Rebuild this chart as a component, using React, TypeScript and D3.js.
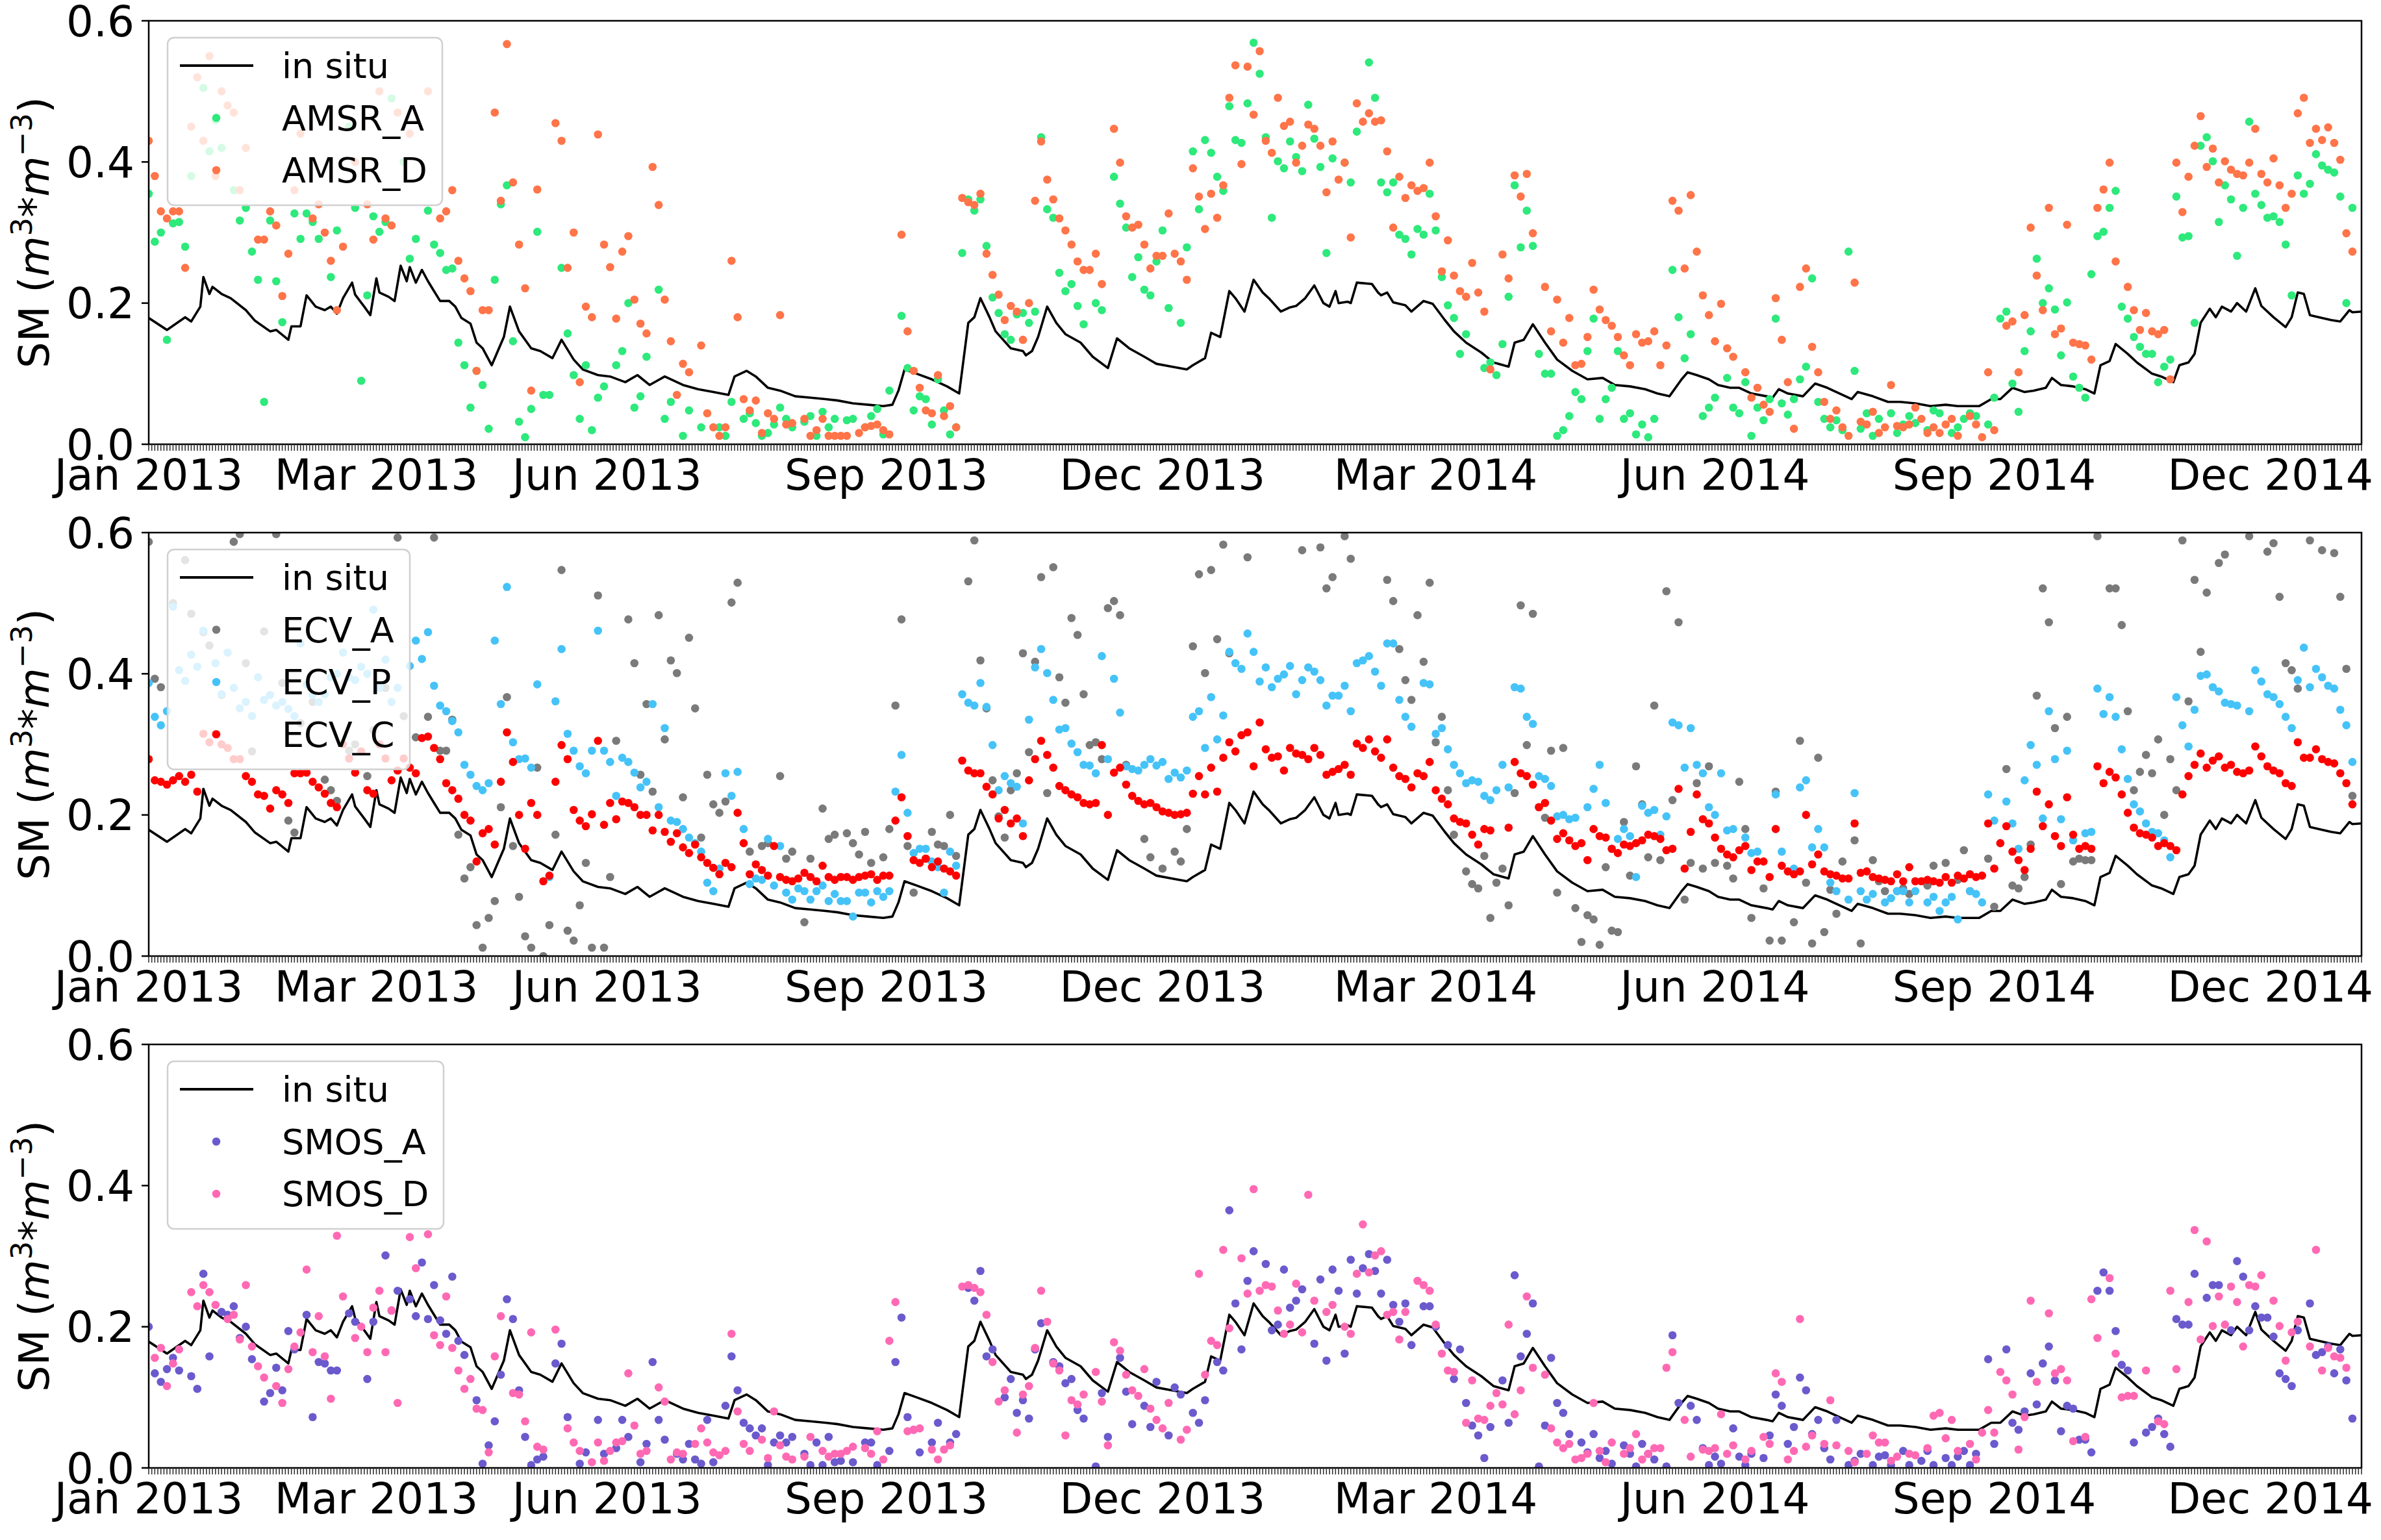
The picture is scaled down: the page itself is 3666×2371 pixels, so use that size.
import React from 'react';
import * as d3 from 'd3';

// missing retrieval
const _ = null;

// time axis: day 0 = 2013-01-01, satellite series sampled every 2 days
const START = Date.UTC(2013, 0, 1);
const DAY = 86400000;
const STEP = 2;
const LAST_DAY = 729;

const tickDates = ['2013-01-01', '2013-03-17', '2013-06-01', '2013-09-01', '2013-12-01', '2014-03-01', '2014-06-01', '2014-09-01', '2014-12-01'];
const yTicks = [0, 0.2, 0.4, 0.6];

// in situ soil moisture: [day, value]
const inSitu: [number, number][] = [
  [0, 0.179], [6, 0.162], [12, 0.18], [14, 0.174], [17, 0.195], [18, 0.237], [20, 0.213], [21, 0.223], [24, 0.213], [27, 0.207],
  [32, 0.19], [35, 0.175], [40, 0.16], [42, 0.162], [46, 0.148], [47, 0.167], [50, 0.167], [52, 0.211], [55, 0.195], [58, 0.19],
  [60, 0.195], [62, 0.185], [64, 0.207], [67, 0.229], [68, 0.212], [71, 0.195], [73, 0.183], [75, 0.235], [76, 0.215], [79, 0.209],
  [81, 0.203], [83, 0.253], [85, 0.231], [86, 0.251], [88, 0.229], [90, 0.247], [92, 0.231], [94, 0.217], [96, 0.203], [99, 0.203],
  [101, 0.195], [103, 0.179], [106, 0.171], [108, 0.144], [110, 0.136], [113, 0.112], [115, 0.132], [117, 0.152], [119, 0.195], [122, 0.16],
  [126, 0.136], [129, 0.132], [133, 0.122], [136, 0.148], [140, 0.12], [143, 0.106], [148, 0.098], [152, 0.096], [157, 0.088], [161, 0.098],
  [165, 0.084], [170, 0.096], [176, 0.084], [181, 0.078], [186, 0.074], [191, 0.07], [193, 0.096], [197, 0.104], [200, 0.096], [204, 0.08],
  [208, 0.076], [213, 0.068], [218, 0.066], [223, 0.064], [227, 0.062], [232, 0.058], [237, 0.056], [242, 0.054], [245, 0.056], [247, 0.076],
  [249, 0.106], [253, 0.1], [258, 0.092], [263, 0.082], [267, 0.072], [270, 0.172], [272, 0.18], [274, 0.207], [277, 0.18], [279, 0.16],
  [284, 0.136], [288, 0.132], [289, 0.126], [291, 0.132], [293, 0.152], [296, 0.195], [299, 0.172], [302, 0.156], [307, 0.144], [311, 0.124],
  [316, 0.108], [319, 0.15], [323, 0.136], [328, 0.124], [332, 0.114], [337, 0.11], [342, 0.106], [344, 0.112], [348, 0.122], [350, 0.158],
  [353, 0.152], [356, 0.217], [358, 0.207], [361, 0.188], [364, 0.233], [367, 0.215], [369, 0.207], [373, 0.188], [376, 0.194], [378, 0.196],
  [381, 0.207], [384, 0.225], [387, 0.2], [389, 0.195], [391, 0.217], [392, 0.2], [395, 0.202], [396, 0.2], [398, 0.229], [403, 0.227],
  [405, 0.215], [406, 0.211], [408, 0.215], [410, 0.201], [414, 0.197], [416, 0.188], [420, 0.203], [423, 0.199], [427, 0.176], [430, 0.16],
  [434, 0.144], [439, 0.13], [443, 0.116], [448, 0.11], [450, 0.144], [453, 0.148], [456, 0.17], [460, 0.144], [464, 0.12], [469, 0.104],
  [474, 0.092], [479, 0.094], [483, 0.084], [488, 0.082], [493, 0.078], [497, 0.072], [501, 0.068], [505, 0.092], [507, 0.102], [510, 0.098],
  [514, 0.092], [517, 0.084], [521, 0.08], [524, 0.08], [528, 0.072], [533, 0.068], [535, 0.066], [537, 0.078], [540, 0.072], [545, 0.068],
  [549, 0.086], [553, 0.08], [556, 0.074], [561, 0.064], [563, 0.074], [568, 0.068], [573, 0.06], [577, 0.06], [582, 0.058], [587, 0.054],
  [592, 0.056], [596, 0.054], [603, 0.054], [607, 0.064], [610, 0.064], [614, 0.08], [618, 0.074], [621, 0.076], [625, 0.08], [627, 0.094],
  [630, 0.084], [634, 0.082], [638, 0.078], [641, 0.072], [643, 0.112], [646, 0.118], [648, 0.142], [652, 0.128], [655, 0.116], [660, 0.1],
  [663, 0.096], [667, 0.088], [669, 0.112], [672, 0.116], [674, 0.128], [676, 0.172], [679, 0.192], [681, 0.18], [683, 0.195], [686, 0.188],
  [688, 0.2], [691, 0.188], [694, 0.221], [696, 0.196], [700, 0.18], [704, 0.166], [706, 0.18], [708, 0.215], [710, 0.213], [712, 0.183],
  [715, 0.18], [719, 0.176], [722, 0.174], [725, 0.19], [726, 0.187], [729, 0.188],
];

const amsrA = [
  0.355, 0.287, 0.3, 0.148, 0.313, 0.315, 0.28, 0.38, _, 0.505, 0.415, 0.459, 0.42, _, 0.36,
  0.317, 0.335, 0.273, 0.233, 0.06, 0.317, 0.231, 0.173, _, 0.327, 0.291, 0.327, 0.315, 0.291, _,
  0.237, 0.303, _, 0.45, 0.335, 0.09, 0.211, 0.323, 0.301, 0.315, 0.49, _, 0.4, 0.263, 0.291,
  _, 0.331, 0.283, 0.271, 0.247, 0.249, 0.144, 0.112, 0.052, 0.104, 0.084, 0.022, 0.233, 0.34, 0.367,
  0.146, 0.032, 0.01, 0.05, 0.301, 0.07, 0.07, _, 0.25, 0.157, 0.098, 0.036, 0.112, 0.02, 0.066,
  0.082, _, 0.112, 0.132, 0.2, 0.052, 0.068, 0.124, _, 0.219, 0.036, 0.06, _, 0.012, 0.048,
  _, 0.024, _, _, 0.024, 0.012, 0.06, _, 0.036, 0.044, 0.03, 0.012, 0.016, 0.028, 0.052,
  0.036, 0.024, _, 0.032, 0.04, 0.012, 0.046, 0.024, 0.036, _, 0.034, 0.036, _, 0.024, 0.04,
  0.05, 0.014, 0.076, _, 0.182, 0.108, 0.048, 0.068, 0.064, 0.028, 0.092, 0.048, 0.014, 0.024, 0.271,
  0.347, 0.331, 0.347, 0.281, 0.208, 0.186, 0.156, 0.148, 0.184, 0.186, 0.172, 0.188, 0.435, 0.333, 0.321,
  0.243, 0.217, 0.227, 0.196, 0.17, _, 0.2, 0.19, _, 0.379, 0.341, 0.307, 0.237, 0.265, 0.219,
  0.211, 0.259, 0.303, 0.193, _, 0.172, 0.279, 0.415, 0.333, 0.431, 0.413, 0.379, 0.359, 0.479, 0.431,
  0.427, 0.483, 0.569, 0.525, 0.435, 0.321, 0.401, 0.391, 0.429, 0.407, 0.387, 0.481, 0.433, 0.393, 0.271,
  0.405, _, 0.399, 0.371, 0.443, _, 0.541, 0.491, 0.371, 0.357, 0.371, 0.297, 0.291, 0.269, 0.305,
  0.297, 0.355, 0.303, 0.237, 0.197, 0.179, 0.128, 0.156, _, _, 0.108, 0.116, 0.098, 0.142, 0.209,
  0.367, 0.279, 0.331, 0.281, 0.128, 0.1, 0.1, 0.012, 0.02, 0.04, 0.074, 0.064, 0.132, 0.178, 0.036,
  0.064, 0.08, 0.132, 0.036, 0.044, 0.014, 0.028, 0.01, 0.036, _, _, 0.247, 0.18, 0.122, 0.156,
  _, 0.04, 0.052, 0.066, _, 0.094, 0.052, 0.044, 0.088, 0.012, 0.052, 0.034, 0.064, 0.178, 0.058,
  0.042, 0.064, 0.092, 0.11, 0.235, 0.06, 0.036, 0.024, 0.034, 0.02, 0.273, 0.104, 0.022, 0.044, 0.012,
  0.036, _, 0.044, 0.016, 0.028, 0.04, 0.03, _, 0.02, 0.048, 0.044, _, 0.016, 0.024, 0.036,
  0.044, 0.04, _, 0.028, 0.066, 0.178, 0.188, 0.086, 0.046, 0.132, 0.16, 0.263, 0.2, 0.221, 0.191,
  0.126, 0.201, 0.096, 0.08, 0.066, 0.241, 0.295, 0.301, 0.335, 0.359, 0.195, 0.178, 0.152, 0.138, 0.128,
  0.128, 0.088, 0.11, 0.12, 0.351, 0.293, 0.295, 0.172, 0.423, 0.435, 0.401, 0.315, 0.367, 0.347, 0.267,
  0.335, 0.457, 0.355, 0.339, 0.321, 0.323, 0.315, 0.283, 0.211, 0.381, 0.355, 0.369, 0.411, 0.395, 0.389,
  0.385, 0.351, 0.2, 0.335,
];

const amsrD = [
  0.43, 0.38, 0.33, 0.32, 0.33, 0.33, 0.25, 0.45, 0.52, 0.43, 0.55, 0.38, 0.5, 0.48, 0.47,
  0.36, 0.42, _, 0.29, 0.29, 0.33, 0.31, 0.21, 0.27, 0.36, 0.44, _, 0.32, 0.34, 0.3,
  0.26, 0.19, 0.28, _, 0.4, _, 0.34, 0.29, 0.5, 0.32, 0.31, 0.47, _, 0.44, _,
  _, 0.5, _, 0.32, 0.33, 0.36, 0.26, 0.235, 0.217, 0.104, 0.19, 0.19, 0.47, 0.345, 0.567,
  0.371, 0.283, 0.221, 0.076, 0.361, _, _, 0.455, 0.43, 0.25, 0.3, 0.088, 0.195, 0.18, 0.439,
  0.283, 0.251, 0.178, 0.273, 0.295, 0.205, 0.171, 0.157, 0.393, 0.339, 0.205, 0.146, 0.07, 0.114, 0.102,
  _, 0.14, 0.044, 0.024, 0.012, 0.024, 0.26, 0.18, 0.064, 0.048, 0.062, 0.016, 0.044, 0.036, 0.183,
  0.028, 0.03, _, 0.036, 0.012, 0.02, 0.036, 0.012, 0.012, 0.012, 0.012, _, 0.016, 0.024, 0.026,
  0.028, 0.02, 0.014, _, 0.297, 0.16, 0.104, 0.08, 0.048, 0.044, 0.098, 0.04, 0.054, 0.024, 0.349,
  0.343, 0.339, 0.355, 0.27, 0.24, 0.212, 0.176, 0.196, 0.188, 0.148, 0.2, 0.345, 0.429, 0.375, 0.347,
  0.32, 0.303, 0.283, 0.259, 0.247, 0.247, 0.27, 0.227, _, 0.447, 0.399, 0.323, 0.307, 0.311, 0.283,
  0.249, 0.267, 0.267, 0.327, 0.27, 0.259, 0.233, 0.391, 0.351, 0.305, 0.355, 0.321, 0.367, 0.491, 0.537,
  0.397, 0.535, 0.467, 0.557, 0.43, 0.413, 0.491, 0.451, 0.457, 0.399, 0.423, 0.453, 0.447, 0.423, 0.357,
  0.429, 0.375, 0.399, 0.293, 0.483, 0.457, 0.469, 0.457, 0.459, 0.415, 0.307, 0.379, 0.349, 0.367, 0.359,
  0.363, 0.399, 0.323, 0.245, 0.289, 0.239, 0.217, 0.209, 0.257, 0.215, 0.188, 0.106, _, 0.269, 0.235,
  0.381, 0.351, 0.383, 0.299, _, 0.223, 0.16, 0.205, 0.144, 0.179, 0.112, 0.114, 0.152, 0.219, 0.191,
  0.176, 0.168, 0.152, 0.126, 0.112, 0.156, 0.144, 0.146, 0.16, 0.112, 0.14, 0.345, 0.331, 0.249, 0.353,
  0.273, 0.211, 0.183, 0.146, 0.199, 0.136, 0.124, _, 0.102, 0.066, 0.08, 0.056, 0.046, 0.207, 0.148,
  0.088, 0.022, 0.223, 0.249, 0.138, 0.102, 0.06, 0.036, 0.048, 0.024, 0.012, 0.229, 0.032, 0.028, 0.046,
  0.016, 0.024, 0.084, 0.026, 0.024, 0.028, 0.052, 0.036, 0.016, 0.024, 0.016, 0.028, 0.036, 0.012, _,
  0.04, 0.028, 0.01, 0.102, 0.02, _, 0.168, 0.174, 0.102, 0.183, 0.307, 0.239, 0.19, 0.335, 0.156,
  0.164, 0.311, 0.144, 0.142, 0.14, 0.12, 0.335, 0.361, 0.399, 0.259, _, 0.223, 0.19, 0.162, 0.186,
  0.16, 0.156, 0.162, 0.092, 0.399, 0.329, 0.379, 0.423, 0.465, 0.393, 0.419, 0.371, 0.401, 0.389, 0.383,
  0.381, 0.399, 0.447, 0.383, 0.371, 0.405, 0.367, 0.335, 0.355, 0.469, 0.491, 0.427, 0.447, 0.431, 0.449,
  0.427, 0.403, 0.299, 0.273,
];

const ecvA = [
  0.587, 0.393, 0.381, _, 0.5, _, 0.561, 0.485, _, 0.459, 0.44, _, 0.37, _, 0.587,
  0.598, 0.415, 0.29, _, 0.46, _, 0.598, 0.387, 0.192, 0.175, 0.33, _, 0.36, _, 0.25,
  0.235, 0.22, _, 0.291, 0.3, _, 0.255, 0.32, _, 0.38, _, 0.593, 0.34, _, 0.31,
  _, 0.339, 0.593, 0.291, 0.291, 0.335, 0.172, 0.11, 0.126, 0.044, 0.012, 0.054, 0.078, 0.211, 0.367,
  0.156, 0.084, 0.028, 0.012, 0.267, 0.0, 0.044, 0.172, 0.547, 0.036, 0.022, 0.072, 0.132, 0.012, 0.511,
  0.012, 0.112, 0.305, _, 0.477, 0.415, 0.257, 0.357, 0.233, 0.483, 0.307, 0.419, 0.401, 0.225, 0.451,
  0.351, 0.168, 0.257, 0.215, 0.203, 0.219, 0.501, 0.529, _, 0.148, _, 0.156, 0.16, _, 0.255,
  0.138, 0.148, _, 0.048, 0.138, _, 0.209, 0.166, 0.172, _, 0.174, 0.16, 0.144, 0.176, 0.132,
  _, 0.14, 0.18, 0.355, 0.477, 0.156, 0.09, _, 0.138, 0.176, 0.158, 0.156, 0.2, 0.142, _,
  0.531, 0.589, 0.419, 0.351, 0.249, 0.198, 0.168, 0.235, 0.259, 0.429, 0.289, 0.417, 0.537, 0.231, 0.551,
  0.395, 0.359, 0.479, 0.455, 0.371, 0.299, 0.303, 0.279, 0.493, 0.503, 0.483, 0.271, _, _, 0.166,
  0.14, _, 0.124, _, 0.148, 0.134, 0.18, 0.439, 0.541, 0.401, 0.547, 0.449, 0.583, 0.429, _,
  _, 0.565, _, _, _, _, _, _, _, _, 0.575, _, _, 0.579, 0.521,
  0.537, _, 0.595, 0.563, _, _, _, _, _, 0.533, 0.503, 0.435, 0.391, 0.363, 0.483,
  0.417, 0.529, 0.303, 0.339, 0.235, 0.172, _, 0.12, 0.102, 0.096, 0.142, 0.054, 0.104, 0.124, 0.072,
  0.231, 0.497, 0.299, 0.485, 0.211, 0.196, 0.291, 0.09, 0.295, _, 0.068, 0.02, 0.058, 0.052, 0.016,
  0.126, 0.036, 0.034, 0.19, 0.114, 0.269, 0.215, 0.14, 0.355, 0.136, 0.517, 0.221, 0.473, 0.08, 0.132,
  0.245, 0.124, 0.269, 0.132, _, 0.128, 0.11, 0.247, 0.18, 0.054, _, 0.096, 0.022, 0.233, 0.022,
  _, 0.048, 0.305, 0.104, 0.018, 0.281, 0.034, 0.094, 0.06, 0.134, _, 0.164, 0.018, _, 0.136,
  0.106, 0.092, _, 0.092, 0.096, 0.088, _, _, 0.1, 0.128, _, 0.132, _, 0.108, 0.15,
  0.092, _, _, 0.138, 0.07, _, 0.265, 0.1, 0.096, 0.112, 0.158, 0.369, 0.521, 0.473, 0.323,
  0.102, 0.339, 0.134, 0.138, 0.136, 0.136, 0.595, _, 0.521, 0.521, 0.469, 0.347, 0.235, 0.261, 0.285,
  0.259, 0.307, 0.2, 0.279, 0.235, 0.589, 0.361, 0.533, 0.431, 0.515, _, 0.557, 0.569, _, _,
  _, 0.595, _, _, 0.573, 0.585, 0.509, 0.415, 0.405, 0.379, _, 0.589, _, 0.575, _,
  0.571, 0.509, 0.407, 0.227,
];

const ecvP = [
  0.387, 0.339, 0.327, 0.347, 0.495, 0.405, 0.39, 0.427, 0.41, 0.461, _, 0.415, 0.371, 0.43, 0.38,
  0.351, 0.36, 0.34, 0.395, 0.363, 0.37, 0.355, 0.36, 0.35, 0.34, 0.443, 0.385, 0.37, 0.36, 0.371,
  0.395, 0.4, 0.43, 0.395, 0.391, 0.41, 0.4, 0.491, 0.38, 0.42, 0.36, 0.38, _, 0.411, 0.447,
  0.421, 0.459, 0.383, 0.355, 0.347, 0.333, 0.317, 0.271, 0.257, 0.241, 0.235, 0.245, 0.447, 0.357, 0.523,
  0.303, 0.279, 0.28, 0.267, 0.385, _, 0.112, 0.361, 0.435, 0.315, 0.291, 0.269, 0.259, 0.291, 0.461,
  0.291, 0.275, 0.227, 0.281, 0.275, 0.26, 0.239, 0.247, 0.357, 0.211, 0.323, 0.192, 0.19, 0.18, 0.168,
  0.16, 0.148, 0.104, 0.092, 0.124, 0.259, 0.227, 0.261, 0.18, 0.102, 0.11, 0.108, 0.166, 0.1, 0.156,
  0.09, 0.08, 0.096, 0.092, 0.08, 0.092, 0.1, 0.078, 0.088, 0.078, 0.078, 0.056, 0.09, 0.09, 0.076,
  0.092, 0.084, 0.092, 0.233, 0.285, 0.203, 0.146, 0.152, 0.152, 0.134, 0.126, 0.09, 0.148, 0.128, 0.371,
  0.359, 0.355, 0.387, 0.353, 0.299, 0.235, 0.255, 0.245, 0.24, 0.188, 0.335, 0.409, 0.435, 0.401, 0.363,
  0.321, 0.323, 0.301, 0.289, 0.271, 0.27, 0.259, 0.425, 0.279, 0.393, 0.345, 0.269, 0.265, 0.263, 0.271,
  0.279, 0.27, 0.275, 0.251, 0.26, 0.253, 0.263, 0.339, 0.347, 0.295, 0.367, 0.307, 0.341, 0.431, 0.415,
  0.407, 0.457, 0.431, 0.389, 0.409, 0.381, 0.393, 0.399, 0.411, 0.371, 0.391, 0.409, 0.403, 0.391, 0.355,
  0.369, 0.369, 0.383, 0.347, 0.415, 0.419, 0.425, 0.403, 0.383, 0.443, 0.443, 0.363, 0.339, 0.325, _,
  0.387, 0.385, 0.315, 0.323, 0.293, 0.271, 0.259, 0.245, 0.249, 0.247, 0.227, 0.221, 0.235, 0.271, 0.239,
  0.381, 0.379, 0.339, 0.329, 0.255, 0.251, 0.241, 0.198, 0.2, 0.194, 0.196, _, 0.211, 0.237, 0.271,
  0.217, 0.152, 0.166, 0.18, 0.17, 0.112, 0.213, 0.203, 0.207, 0.172, 0.198, 0.331, 0.327, 0.267, 0.323,
  0.271, 0.259, 0.211, 0.2, 0.259, 0.178, 0.18, _, 0.168, 0.146, 0.148, _, _, 0.229, 0.148,
  _, 0.124, 0.239, 0.249, 0.154, 0.18, 0.154, 0.104, 0.092, _, 0.08, 0.231, 0.092, 0.08, 0.088,
  _, 0.076, 0.082, 0.092, 0.092, 0.076, 0.092, _, 0.076, 0.084, 0.064, 0.076, 0.084, 0.052, _,
  0.092, 0.088, 0.076, 0.229, 0.192, _, 0.219, 0.188, 0.152, 0.249, 0.299, 0.271, 0.195, 0.347, 0.279,
  0.194, 0.291, 0.164, _, 0.174, 0.176, 0.379, 0.343, 0.367, 0.339, 0.293, 0.251, 0.215, 0.205, 0.188,
  0.176, 0.174, 0.164, 0.14, 0.367, 0.327, 0.297, 0.349, 0.397, 0.399, 0.381, 0.375, 0.359, 0.357, 0.355,
  _, 0.347, 0.405, 0.389, 0.371, 0.367, 0.357, 0.339, 0.323, 0.391, 0.437, 0.381, 0.407, 0.395, 0.383,
  0.379, 0.349, 0.327, 0.275,
];

const ecvC = [
  0.279, 0.249, 0.247, 0.243, 0.249, 0.255, 0.247, 0.257, 0.233, 0.315, 0.303, 0.315, 0.3, 0.295, 0.279,
  0.279, 0.255, 0.247, 0.229, 0.227, 0.209, 0.235, 0.229, 0.217, 0.259, 0.259, 0.26, 0.247, 0.239, 0.23,
  0.217, 0.211, 0.3, 0.28, 0.26, 0.29, 0.235, 0.23, 0.3, 0.28, 0.249, 0.263, 0.28, 0.267, 0.259,
  0.309, 0.311, 0.295, 0.279, 0.245, 0.235, 0.223, 0.2, 0.192, 0.134, 0.174, 0.18, 0.158, 0.247, 0.317,
  0.275, 0.2, 0.152, 0.217, 0.2, 0.106, 0.114, 0.247, 0.299, 0.279, 0.207, 0.192, 0.184, 0.201, 0.305,
  0.186, 0.217, 0.194, 0.219, 0.217, 0.211, 0.2, 0.2, 0.178, 0.2, 0.176, 0.162, 0.174, 0.154, 0.146,
  0.158, 0.14, 0.132, 0.125, 0.116, 0.132, 0.126, 0.203, 0.16, 0.116, 0.13, 0.122, 0.114, 0.156, 0.112,
  0.108, 0.106, 0.11, 0.118, 0.112, 0.106, 0.128, 0.112, 0.108, 0.112, 0.112, 0.108, 0.112, 0.114, 0.116,
  0.108, 0.114, 0.114, 0.192, 0.225, 0.17, 0.136, 0.132, 0.138, 0.126, 0.134, 0.124, 0.12, 0.114, 0.277,
  0.263, 0.259, 0.259, 0.24, 0.229, 0.195, 0.207, 0.188, 0.195, 0.17, 0.249, 0.279, 0.305, 0.285, 0.267,
  0.241, 0.235, 0.229, 0.225, 0.217, 0.215, 0.217, 0.299, 0.2, 0.26, 0.267, 0.243, 0.227, 0.22, 0.215,
  0.217, 0.211, 0.205, 0.203, 0.2, 0.201, 0.203, 0.23, 0.255, 0.229, 0.267, 0.233, 0.281, 0.303, 0.29,
  0.313, 0.317, 0.269, 0.331, 0.293, 0.281, 0.283, 0.263, 0.295, 0.287, 0.285, 0.279, 0.295, 0.285, 0.257,
  0.261, 0.265, 0.271, 0.257, 0.301, 0.295, 0.307, 0.29, 0.281, 0.307, 0.267, 0.255, 0.251, 0.239, 0.259,
  0.255, 0.275, 0.235, 0.223, 0.215, 0.195, 0.19, 0.188, 0.172, 0.158, 0.18, 0.178, _, _, 0.182,
  0.275, 0.259, 0.255, 0.243, 0.211, 0.217, 0.192, 0.166, 0.174, 0.164, 0.156, 0.16, 0.136, 0.18, 0.17,
  0.168, 0.152, 0.146, 0.158, 0.156, 0.16, 0.164, 0.172, 0.17, 0.166, 0.15, 0.152, 0.237, 0.124, 0.176,
  0.229, 0.194, 0.188, 0.168, 0.152, 0.144, 0.14, 0.15, 0.156, 0.122, 0.134, 0.134, 0.112, 0.18, 0.128,
  0.12, 0.116, 0.12, 0.2, 0.13, 0.144, 0.12, 0.116, 0.114, 0.11, 0.11, 0.188, 0.118, 0.12, 0.112,
  0.11, 0.108, 0.106, 0.116, 0.106, 0.126, 0.106, 0.106, 0.108, 0.106, 0.104, 0.112, 0.104, 0.114, 0.11,
  0.116, 0.112, 0.114, 0.188, 0.124, 0.16, 0.184, 0.148, 0.136, 0.122, 0.152, 0.233, 0.184, 0.215, 0.17,
  0.156, 0.225, 0.172, 0.152, 0.156, 0.152, 0.269, 0.245, 0.261, 0.253, 0.229, 0.203, 0.182, 0.174, 0.172,
  0.168, 0.156, 0.16, 0.156, 0.15, 0.229, 0.255, 0.271, 0.287, 0.267, 0.277, 0.283, 0.267, 0.271, 0.261,
  0.259, 0.263, 0.297, 0.283, 0.269, 0.263, 0.259, 0.245, 0.241, 0.303, 0.281, 0.281, 0.293, 0.279, 0.275,
  0.273, 0.259, 0.245, 0.215,
];

const smosA = [
  0.2, 0.134, 0.122, 0.14, 0.156, 0.138, _, 0.13, 0.112, 0.275, 0.158, _, 0.221, 0.217, 0.229,
  0.184, 0.2, 0.154, _, 0.094, 0.106, 0.142, 0.11, 0.194, 0.168, _, 0.217, 0.072, 0.15, 0.148,
  0.138, 0.138, _, 0.219, 0.207, _, 0.126, 0.207, _, 0.301, 0.223, 0.251, _, 0.239, 0.215,
  0.291, 0.211, 0.259, 0.209, 0.19, 0.271, 0.18, 0.16, _, 0.096, 0.006, 0.032, 0.066, 0.132, 0.239,
  0.211, 0.11, 0.044, 0.004, 0.012, 0.016, _, 0.148, 0.176, 0.072, _, 0.006, 0.022, _, 0.068,
  0.02, _, 0.028, 0.068, 0.044, _, 0.008, 0.034, 0.15, 0.068, 0.04, _, 0.02, 0.012, 0.034,
  0.012, 0.006, 0.068, 0.008, _, 0.088, 0.158, 0.11, 0.064, 0.056, 0.046, 0.056, 0.004, 0.036, 0.046,
  0.036, 0.044, _, 0.02, 0.004, 0.036, 0.004, 0.044, 0.008, 0.01, _, 0.008, _, 0.036, 0.036,
  0.004, _, 0.024, 0.15, 0.213, 0.072, 0.054, 0.022, _, 0.036, 0.064, _, 0.036, 0.048, _,
  0.255, 0.237, 0.279, 0.158, 0.168, _, 0.1, 0.126, 0.078, 0.096, 0.07, 0.168, 0.205, _, 0.15,
  0.144, 0.12, 0.126, 0.082, 0.07, _, 0.002, 0.106, 0.044, _, 0.156, 0.108, 0.062, _, 0.088,
  0.058, 0.122, _, 0.046, 0.114, 0.104, _, 0.078, 0.064, 0.096, _, 0.15, 0.138, 0.365, 0.233,
  0.168, 0.265, 0.307, _, 0.289, 0.195, 0.203, 0.281, 0.227, 0.237, 0.253, _, 0.176, 0.267, 0.152,
  0.281, 0.251, 0.162, 0.295, 0.247, 0.283, 0.303, 0.279, 0.247, 0.295, 0.231, 0.207, 0.233, 0.174, _,
  0.229, 0.229, 0.2, _, 0.174, 0.126, 0.168, 0.092, 0.06, 0.046, 0.014, 0.058, _, 0.124, 0.064,
  0.273, 0.158, 0.19, 0.233, 0.002, 0.06, 0.156, 0.092, 0.078, 0.048, _, 0.036, 0.022, 0.048, 0.014,
  0.024, 0.006, _, 0.032, 0.02, 0.002, 0.034, 0.02, 0.012, _, 0.002, 0.188, 0.092, _, 0.088,
  0.068, 0.028, 0.004, 0.016, 0.006, _, 0.056, 0.016, 0.004, 0.02, _, 0.014, 0.046, 0.104, 0.088,
  0.034, 0.058, 0.128, 0.11, 0.048, 0.068, 0.028, 0.012, 0.068, _, 0.004, 0.01, 0.02, _, 0.004,
  0.016, 0.018, 0.004, _, 0.024, 0.004, _, 0.01, 0.024, 0.004, _, 0.014, 0.004, 0.016, 0.024,
  0.004, 0.02, _, 0.154, 0.034, _, 0.168, 0.064, 0.054, 0.08, 0.134, 0.09, 0.148, 0.172, 0.124,
  0.052, 0.088, 0.084, 0.04, 0.04, 0.022, 0.251, 0.277, 0.251, 0.194, 0.146, 0.138, 0.036, _, 0.05,
  0.058, 0.07, 0.048, 0.03, 0.211, 0.203, 0.203, 0.275, _, 0.241, 0.259, 0.259, _, 0.195, 0.293,
  0.271, 0.195, 0.229, 0.213, 0.213, 0.186, 0.134, 0.126, 0.116, 0.195, _, 0.233, 0.16, 0.164, 0.172,
  0.134, 0.168, 0.124, 0.07,
];

const smosD = [
  _, 0.156, 0.17, 0.116, 0.148, 0.168, _, 0.249, 0.229, 0.259, 0.249, 0.231, _, 0.211, 0.217,
  0.182, 0.259, 0.172, 0.144, 0.128, _, 0.116, 0.092, 0.14, 0.172, 0.192, 0.281, 0.164, 0.215, 0.158,
  0.098, 0.329, 0.243, _, 0.184, 0.2, 0.164, 0.227, 0.251, 0.164, 0.223, 0.092, _, 0.327, 0.283,
  _, 0.331, 0.188, 0.174, 0.243, 0.17, 0.138, 0.112, 0.126, 0.084, 0.082, 0.022, 0.158, 0.215, _,
  0.106, 0.104, 0.066, 0.192, 0.03, 0.026, _, 0.196, _, 0.056, 0.036, 0.024, _, 0.008, 0.036,
  0.01, 0.024, 0.036, 0.038, 0.134, 0.06, 0.02, 0.024, _, 0.114, 0.094, 0.012, 0.022, 0.02, _,
  0.034, 0.056, 0.036, 0.022, 0.018, 0.024, 0.19, 0.08, 0.034, 0.024, _, 0.04, 0.014, 0.08, 0.032,
  0.016, 0.012, _, 0.016, 0.044, _, 0.024, 0.016, 0.02, 0.02, 0.024, 0.03, _, 0.028, 0.02,
  0.052, 0.012, 0.18, 0.235, _, 0.052, 0.054, 0.056, _, 0.026, 0.012, 0.026, 0.032, _, 0.257,
  0.259, 0.255, 0.249, 0.217, 0.15, 0.094, 0.11, _, 0.05, 0.104, 0.116, 0.17, 0.251, 0.207, 0.148,
  0.138, 0.046, 0.096, 0.09, 0.104, _, 0.136, 0.094, 0.032, 0.178, 0.166, 0.132, 0.11, 0.102, 0.14,
  0.084, 0.068, 0.056, 0.092, _, 0.04, 0.054, _, 0.275, 0.132, 0.18, 0.174, 0.309, 0.198, _,
  0.297, 0.247, 0.395, 0.251, 0.259, 0.257, 0.223, 0.19, 0.203, 0.261, 0.192, 0.387, 0.237, _, 0.221,
  0.231, _, 0.2, 0.19, 0.275, 0.345, 0.277, 0.301, 0.307, 0.217, 0.221, 0.182, 0.221, _, 0.265,
  0.259, 0.251, 0.203, 0.162, 0.138, 0.136, _, 0.064, 0.124, 0.07, 0.068, 0.088, 0.106, 0.09, 0.203,
  0.076, 0.11, 0.243, 0.142, _, 0.132, 0.056, 0.036, 0.028, 0.034, 0.012, 0.014, 0.02, 0.092, 0.024,
  0.008, 0.036, _, 0.02, 0.028, 0.048, 0.012, 0.02, 0.028, 0.028, 0.142, 0.164, _, 0.068, 0.016,
  _, 0.026, 0.024, 0.028, 0.076, 0.02, 0.032, _, 0.012, 0.024, _, 0.044, 0.034, 0.134, 0.122,
  0.012, 0.024, 0.211, 0.03, 0.046, _, 0.034, 0.096, 0.032, _, 0.024, 0.008, _, 0.02, 0.046,
  0.036, 0.036, 0.01, 0.016, _, 0.02, 0.018, _, 0.028, 0.074, 0.078, 0.042, 0.068, 0.024, _,
  0.034, 0.012, 0.05, 0.082, 0.05, 0.136, 0.124, 0.104, 0.026, 0.072, 0.237, 0.122, _, 0.219, 0.134,
  0.14, 0.124, 0.038, _, 0.044, 0.239, 0.184, _, 0.269, 0.162, 0.1, 0.102, 0.102, _, 0.138,
  _, 0.066, 0.062, 0.251, 0.14, _, 0.235, 0.337, 0.182, 0.321, 0.201, 0.243, 0.203, 0.257, 0.235,
  0.172, 0.259, 0.257, 0.273, _, 0.237, 0.201, 0.152, 0.192, 0.207, _, 0.172, 0.309, 0.138, 0.17,
  0.158, 0.156, 0.142, _,
];

type Series = { name: string; color: string; values: (number | null)[] };
type PanelCfg = { legendW: number; series: Series[] };

const panels: PanelCfg[] = [
  { legendW: 423, series: [
    { name: 'AMSR_A', color: '#2ee97b', values: amsrA },
    { name: 'AMSR_D', color: '#ff7448', values: amsrD },
  ] },
  { legendW: 373, series: [
    { name: 'ECV_A', color: '#7a7a7a', values: ecvA },
    { name: 'ECV_P', color: '#45c3f8', values: ecvP },
    { name: 'ECV_C', color: '#ff0000', values: ecvC },
  ] },
  { legendW: 425, series: [
    { name: 'SMOS_A', color: '#6a5acd', values: smosA },
    { name: 'SMOS_D', color: '#ff69b4', values: smosD },
  ] },
];

const W = 3666;
const H = 2371;
const LEFT = 229;
const RIGHT = 3636;
const PANEL_TOPS = [32, 820, 1608];
const PANEL_H = 652;
const FONT = 'DejaVu Sans, Liberation Sans, sans-serif';
const TICK_FS = 66;

const dayDate = (d: number) => new Date(START + d * DAY);
const x = d3.scaleUtc().domain([dayDate(0), dayDate(LAST_DAY)]).range([LEFT, RIGHT]);
const fmt = d3.utcFormat('%b %Y');
const dailyTicks = d3.utcDay.range(dayDate(0), dayDate(LAST_DAY + 1));

function Panel({ top, cfg, idx }: { top: number; cfg: PanelCfg; idx: number }) {
  const bottom = top + PANEL_H;
  const y = d3.scaleLinear().domain([0, 0.6]).range([bottom, top]);
  const line = d3.line<[number, number]>()
    .x(d => x(dayDate(d[0])))
    .y(d => y(d[1]));

  const minorPath = dailyTicks.map(t => `M${x(t).toFixed(1)},${bottom}v10`).join('');

  const rows = 1 + cfg.series.length;
  const lgX = LEFT + 29;
  const lgY = top + 26;
  const lgH = 97 + (rows - 1) * 80.5;
  const rowY = (k: number) => lgY + 43 + k * 80.5;

  return (
    <g>
      <defs>
        <clipPath id={`clip${idx}`}>
          <rect x={LEFT} y={top} width={RIGHT - LEFT} height={PANEL_H} />
        </clipPath>
      </defs>

      <g clipPath={`url(#clip${idx})`}>
        <path d={line(inSitu) ?? ''} fill="none" stroke="#000" strokeWidth={3.6} strokeLinejoin="round" />
        {cfg.series.map(s => (
          <g key={s.name} fill={s.color}>
            {s.values.map((v, i) => v == null ? null : (
              <circle key={i} cx={x(dayDate(i * STEP))} cy={y(v)} r={6.3} />
            ))}
          </g>
        ))}
      </g>

      {/* legend */}
      <rect x={lgX} y={lgY} width={cfg.legendW} height={lgH} rx={10} fill="#fff" fillOpacity={0.8} stroke="#d0d0d0" strokeWidth={2.5} />
      <line x1={lgX + 19} x2={lgX + 132} y1={rowY(0)} y2={rowY(0)} stroke="#000" strokeWidth={4} />
      <text x={lgX + 176} y={rowY(0)} dy="0.36em" fontSize={54} fontFamily={FONT}>in situ</text>
      {cfg.series.map((s, k) => (
        <g key={s.name}>
          <circle cx={lgX + 75} cy={rowY(k + 1)} r={6.3} fill={s.color} />
          <text x={lgX + 176} y={rowY(k + 1)} dy="0.36em" fontSize={54} fontFamily={FONT}>{s.name}</text>
        </g>
      ))}

      {/* frame */}
      <rect x={LEFT} y={top} width={RIGHT - LEFT} height={PANEL_H} fill="none" stroke="#000" strokeWidth={2.5} />

      {/* x axis */}
      <path d={minorPath} stroke="#333" strokeWidth={1.6} fill="none" />
      {tickDates.map(t => {
        const dt = new Date(t + 'T00:00:00Z');
        return (
          <text key={t} x={x(dt)} y={bottom + 70} textAnchor="middle" fontSize={TICK_FS} fontFamily={FONT}>{fmt(dt)}</text>
        );
      })}

      {/* y axis */}
      {yTicks.map(v => (
        <g key={v}>
          <line x1={LEFT - 11} x2={LEFT} y1={y(v)} y2={y(v)} stroke="#000" strokeWidth={2.5} />
          <text x={LEFT - 22} y={y(v)} dy="0.36em" textAnchor="end" fontSize={TICK_FS} fontFamily={FONT}>{v.toFixed(1)}</text>
        </g>
      ))}
      <text transform={`translate(75, ${top + PANEL_H / 2}) rotate(-90)`} textAnchor="middle" fontSize={64} fontFamily={FONT}>
        SM (<tspan fontStyle="italic">m</tspan><tspan fontSize={45} dy={-26}>3</tspan><tspan dy={26}>*</tspan><tspan fontStyle="italic">m</tspan><tspan fontSize={45} dy={-26}>−3</tspan><tspan dy={26}>)</tspan>
      </text>
    </g>
  );
}

export default function App() {
  return (
    <div style={{ position: 'absolute', left: 0, top: 0, background: '#fff' }}>
      <svg width={W} height={H} viewBox={`0 0 ${W} ${H}`} xmlns="http://www.w3.org/2000/svg">
        <rect width={W} height={H} fill="#fff" />
        {panels.map((p, i) => (
          <Panel key={i} idx={i} top={PANEL_TOPS[i]} cfg={p} />
        ))}
      </svg>
    </div>
  );
}
